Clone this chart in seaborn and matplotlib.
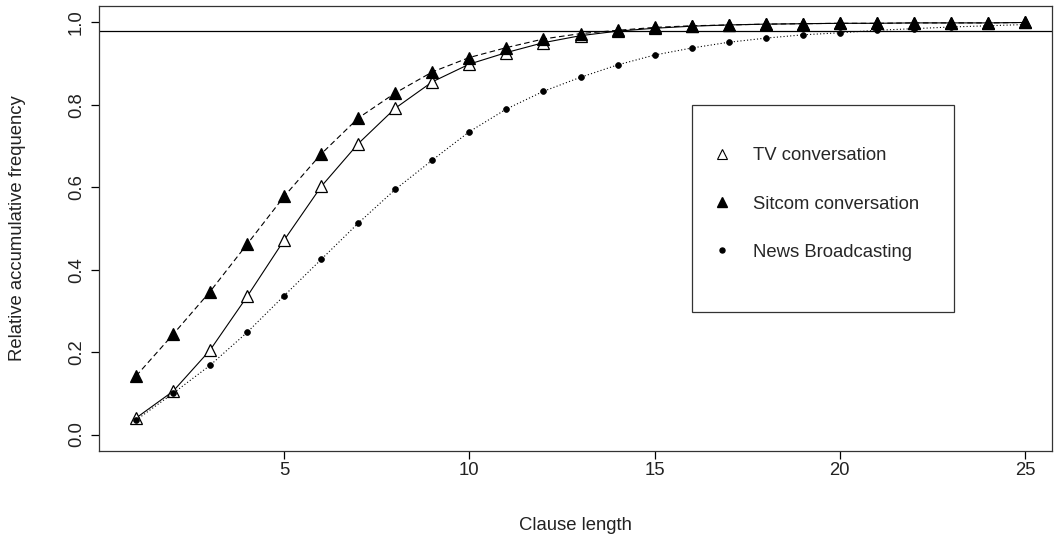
import numpy as np
import pandas as pd
import matplotlib
matplotlib.use("Agg")
import matplotlib.pyplot as plt
from matplotlib.lines import Line2D
from matplotlib.patches import Rectangle
import seaborn as sns

# Cumulative relative frequency of clause lengths per corpus
clause_length = list(range(1, 26))
tv_conversation = [0.040, 0.105, 0.205, 0.335, 0.472, 0.602, 0.706, 0.792, 0.856, 0.899,
                   0.927, 0.951, 0.968, 0.979, 0.986, 0.991, 0.994, 0.996, 0.997, 0.998,
                   0.998, 0.999, 0.999, 0.999, 1.000]
sitcom_conversation = [0.142, 0.243, 0.347, 0.462, 0.578, 0.681, 0.768, 0.829, 0.880, 0.915,
                       0.939, 0.960, 0.973, 0.981, 0.988, 0.992, 0.994, 0.996, 0.997, 0.998,
                       0.998, 0.999, 0.999, 0.999, 1.000]
news_broadcasting = [0.035, 0.100, 0.168, 0.248, 0.337, 0.425, 0.513, 0.595, 0.666, 0.735,
                     0.790, 0.833, 0.867, 0.897, 0.921, 0.938, 0.952, 0.962, 0.970, 0.975,
                     0.981, 0.985, 0.989, 0.992, 0.995]
series_names = ["TV conversation", "Sitcom conversation", "News Broadcasting"]
reference_level = 0.98
x_ticks = [5, 10, 15, 20, 25]
y_ticks = [0.0, 0.2, 0.4, 0.6, 0.8, 1.0]

sns.set_style("ticks")
plt.rcParams["font.family"] = ["Liberation Sans", "DejaVu Sans"]
FS = 13.3

W, H = 1054, 547
fig = plt.figure(figsize=(W / 100, H / 100), dpi=100)
ax = fig.add_axes([99 / W, 1 - 451 / H, (1052 - 99) / W, (451 - 6) / H])

df = pd.DataFrame({"x": clause_length, "tv": tv_conversation,
                   "sitcom": sitcom_conversation, "news": news_broadcasting})

styles = {
    "tv": dict(linestyle="-", marker="^", markersize=8.5, markerfacecolor="white",
               markeredgecolor="black", markeredgewidth=0.9),
    "sitcom": dict(linestyle=(0, (5, 3)), marker="^", markersize=8.5, markerfacecolor="black",
                   markeredgecolor="black", markeredgewidth=0.9),
    "news": dict(linestyle=(0, (1, 2)), marker="o", markersize=4.2, markerfacecolor="black",
                 markeredgecolor="black", markeredgewidth=0.5),
}
for key in ["tv", "sitcom", "news"]:
    sns.lineplot(data=df, x="x", y=key, ax=ax, color="black", linewidth=0.8,
                 legend=False, **styles[key])

ax.axhline(reference_level, color="black", linewidth=0.9)

ax.set_xlim(0.0, 25.73)
ax.set_ylim(-0.04, 1.04)
ax.set_xticks(x_ticks)
ax.set_xticklabels([str(t) for t in x_ticks], fontsize=FS)
ax.set_yticks(y_ticks)
ax.set_yticklabels([f"{t:.1f}" for t in y_ticks], fontsize=FS, rotation=90, va="center")
ax.tick_params(axis="both", direction="out", length=6, width=0.9, color="black",
               labelcolor="#222222")
ax.tick_params(axis="x", pad=2)
ax.tick_params(axis="y", pad=4)
ax.set_xlabel("Clause length", fontsize=FS, color="#222222", labelpad=27)
ax.set_ylabel("Relative accumulative frequency", fontsize=FS, color="#222222", labelpad=30)
for sp in ax.spines.values():
    sp.set_visible(True)
    sp.set_color("#333333")
    sp.set_linewidth(0.9)

# Legend: markers only, inside a drawn frame
handles = [
    Line2D([], [], linestyle="none", marker="^", markersize=6.5, markerfacecolor="white",
           markeredgecolor="black", markeredgewidth=0.8),
    Line2D([], [], linestyle="none", marker="^", markersize=6.5, markerfacecolor="black",
           markeredgecolor="black"),
    Line2D([], [], linestyle="none", marker="o", markersize=3.6, markerfacecolor="black",
           markeredgecolor="black"),
]
ax.legend(handles, series_names, loc="upper left", frameon=False, fontsize=FS,
          bbox_to_anchor=(712.75 / W, 1 - 147.5 / H), bbox_transform=fig.transFigure,
          borderpad=0, borderaxespad=0, handlelength=1.0, handletextpad=1.18,
          labelspacing=1.68)
ax.add_patch(Rectangle((16, 0.297), 23.08 - 16, 0.8 - 0.297, fill=False,
                       edgecolor="#333333", linewidth=0.9, zorder=5))

fig.savefig("out.png", dpi=100)
